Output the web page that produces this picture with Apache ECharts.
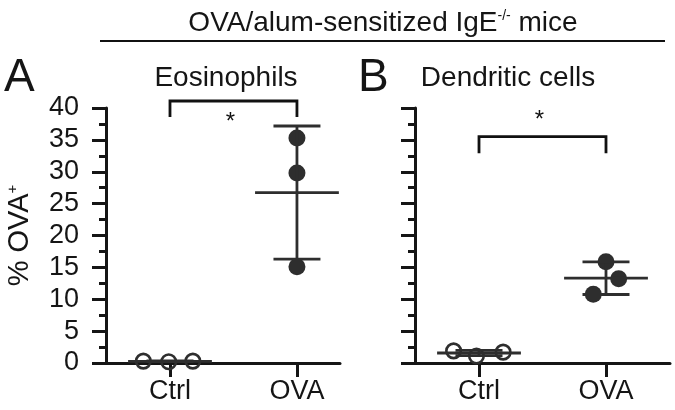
<!DOCTYPE html>
<html><head><meta charset="utf-8">
<script src="https://cdn.jsdelivr.net/npm/echarts@6/dist/echarts.min.js"></script>
<style>html,body{margin:0;padding:0;background:#fff}#c{width:675px;height:410px}</style>
</head><body><div id="c"></div>
<script>
// ---- data ----
const categories = ['Ctrl', 'OVA'];
const yTickValues = [0, 5, 10, 15, 20, 25, 30, 35, 40];
const eosCtrl = [0.3, 0.2, 0.3];
const eosOva = [35.3, 29.8, 15.1];
const dcCtrl = [1.9, 1.1, 1.7];
const dcOva = [15.9, 13.2, 10.8];
// horizontal scatter of the dots within a category (category units)
const jitterEosCtrl = [-0.21, -0.01, 0.18];
const jitterEosOva = [0, 0, 0];
const jitterDcCtrl = [-0.2, -0.02, 0.19];
const jitterDcOva = [0, 0.1, -0.1];
// significance brackets: [bar level, leg end], asterisk level
const bracketEos = [41.1, 38.6];
const starEos = 38.0;
const bracketDc = [35.5, 32.9];
const starDc = 38.4;
const sigLabel = '*';

// ---- helpers ----
function mean(a){ return a.reduce((s,v)=>s+v,0)/a.length; }
function sd(a){ const m=mean(a); return Math.sqrt(a.reduce((s,v)=>s+(v-m)*(v-m),0)/(a.length-1)); }
function pts(vals, jit, catIdx){ return vals.map((v,i)=>[catIdx+1+jit[i], v]); }
function stats(vals, catIdx){ return [catIdx+1, mean(vals), sd(vals)]; }

const INK = '#2e2e2e';
const AXIS = '#151515';
const TXT = '#151515';
const FONT = 'Liberation Sans, Arial, sans-serif';

function errRender(params, api){
  const x = api.value(0), m = api.value(1), s = api.value(2);
  const c = api.coord([x, m]);
  const t = api.coord([x, m + s]);
  const b = api.coord([x, m - s]);
  const u = api.size([1, 0])[0];
  const hw = u * 0.33, cw = u * 0.185;
  const st = {stroke: INK, lineWidth: 2.8};
  return {type: 'group', children: [
    {type: 'line', shape: {x1: c[0], y1: t[1], x2: c[0], y2: b[1]}, style: st},
    {type: 'line', shape: {x1: c[0]-hw, y1: c[1], x2: c[0]+hw, y2: c[1]}, style: st},
    {type: 'line', shape: {x1: c[0]-cw, y1: t[1], x2: c[0]+cw, y2: t[1]}, style: st},
    {type: 'line', shape: {x1: c[0]-cw, y1: b[1], x2: c[0]+cw, y2: b[1]}, style: st}
  ]};
}
function bracketRender(params, api){
  const x1 = api.value(0), x2 = api.value(1), yb = api.value(2), yl = api.value(3), ys = api.value(4);
  const p1 = api.coord([x1, yb]), p2 = api.coord([x2, yb]);
  const l1 = api.coord([x1, yl]);
  const sp = api.coord([(x1 + x2) / 2, ys]);
  const st = {stroke: '#111', lineWidth: 2.8, fill: null};
  return {type: 'group', children: [
    {type: 'polyline', shape: {points: [[p1[0], l1[1]], p1, p2, [p2[0], l1[1]]]}, style: st},
    {type: 'text', x: sp[0] - 3, y: sp[1] + 2, style: {text: sigLabel, fill: '#111', font: '24px ' + FONT, align: 'center', verticalAlign: 'middle'}}
  ]};
}

const commonY = (showLabels) => ({
  type: 'value', min: 0, max: 40, interval: 5,
  axisLine: {show: true, lineStyle: {color: AXIS, width: 3}},
  axisTick: {show: true, length: 14, lineStyle: {color: AXIS, width: 3}},
  minorTick: {show: true, splitNumber: 2, length: 7, lineStyle: {color: AXIS, width: 3}},
  splitLine: {show: false},
  axisLabel: {show: showLabels, fontSize: 27, color: TXT, fontFamily: FONT, margin: 27}
});
const commonX = (max) => ({
  type: 'value', min: 0.496, max: max,
  axisLine: {show: true, onZero: false, lineStyle: {color: AXIS, width: 3}},
  axisTick: {show: true, length: 14, customValues: [1, 2], lineStyle: {color: AXIS, width: 3}},
  axisLabel: {show: true, customValues: [1, 2], formatter: v => categories[Math.round(v) - 1] || '',
              fontSize: 27, color: TXT, fontFamily: FONT, margin: 15},
  splitLine: {show: false}
});

const openSym = {symbol: 'circle', symbolSize: 14.5, itemStyle: {color: 'rgba(255,255,255,0)', borderColor: INK, borderWidth: 2.6, opacity: 1}};
const fillSym = {symbol: 'circle', symbolSize: 17, itemStyle: {color: INK, opacity: 1}};

const option = {
  backgroundColor: '#fff',
  animation: false,
  title: [
    {text: 'OVA/alum-sensitized IgE{sup|-/-} mice', left: 383, top: 9, textAlign: 'center', padding: 0,
     textStyle: {fontSize: 28, fontWeight: 'normal', color: TXT, fontFamily: FONT,
       rich: {sup: {fontSize: 14, color: TXT, fontFamily: FONT, padding: [0, 0, 14, 0]}}}},
    {text: 'A', left: 4, top: 55, padding: 0, textStyle: {fontSize: 46, fontWeight: 'normal', color: TXT, fontFamily: FONT}},
    {text: 'Eosinophils', left: 226, top: 64, textAlign: 'center', padding: 0, textStyle: {fontSize: 28, fontWeight: 'normal', color: TXT, fontFamily: FONT}},
    {text: 'B', left: 358, top: 55, padding: 0, textStyle: {fontSize: 46, fontWeight: 'normal', color: TXT, fontFamily: FONT}},
    {text: 'Dendritic cells', left: 508, top: 64, textAlign: 'center', padding: 0, textStyle: {fontSize: 28, fontWeight: 'normal', color: TXT, fontFamily: FONT}}
  ],
  graphic: [
    {type: 'line', shape: {x1: 100, y1: 41, x2: 665, y2: 41}, style: {stroke: '#111', lineWidth: 2}}
  ],
  grid: [
    {left: 106, top: 108, width: 234, height: 255},
    {left: 415, top: 108, width: 255, height: 255}
  ],
  xAxis: [Object.assign(commonX(2.339), {gridIndex: 0}), Object.assign(commonX(2.504), {gridIndex: 1})],
  yAxis: [
    Object.assign(commonY(true), {gridIndex: 0, name: '% OVA{sup|+}', nameLocation: 'middle', nameRotate: 90, nameGap: 72,
      nameTextStyle: {fontSize: 29, color: TXT, fontFamily: FONT,
        rich: {sup: {fontSize: 15, color: TXT, fontFamily: FONT, padding: [0, 0, 14, 0]}}}}),
    Object.assign(commonY(false), {gridIndex: 1})
  ],
  series: [
    {type: 'custom', xAxisIndex: 0, yAxisIndex: 0, renderItem: bracketRender, clip: false, z: 5,
     data: [[1, 2, bracketEos[0], bracketEos[1], starEos]]},
    {type: 'custom', xAxisIndex: 1, yAxisIndex: 1, renderItem: bracketRender, clip: false, z: 5,
     data: [[1, 2, bracketDc[0], bracketDc[1], starDc]]},
    Object.assign({type: 'scatter', xAxisIndex: 0, yAxisIndex: 0, z: 3, data: pts(eosCtrl, jitterEosCtrl, 0)}, openSym),
    Object.assign({type: 'scatter', xAxisIndex: 0, yAxisIndex: 0, z: 3, data: pts(eosOva, jitterEosOva, 1)}, fillSym),
    Object.assign({type: 'scatter', xAxisIndex: 1, yAxisIndex: 1, z: 3, data: pts(dcCtrl, jitterDcCtrl, 0)}, openSym),
    Object.assign({type: 'scatter', xAxisIndex: 1, yAxisIndex: 1, z: 3, data: pts(dcOva, jitterDcOva, 1)}, fillSym),
    {type: 'custom', xAxisIndex: 0, yAxisIndex: 0, renderItem: errRender, clip: false, z: 4,
     data: [stats(eosCtrl, 0), stats(eosOva, 1)]},
    {type: 'custom', xAxisIndex: 1, yAxisIndex: 1, renderItem: errRender, clip: false, z: 4,
     data: [stats(dcCtrl, 0), stats(dcOva, 1)]}
  ]
};
const chart = echarts.init(document.getElementById('c'), null, {renderer: 'canvas'});
chart.setOption(option);
</script></body></html>
